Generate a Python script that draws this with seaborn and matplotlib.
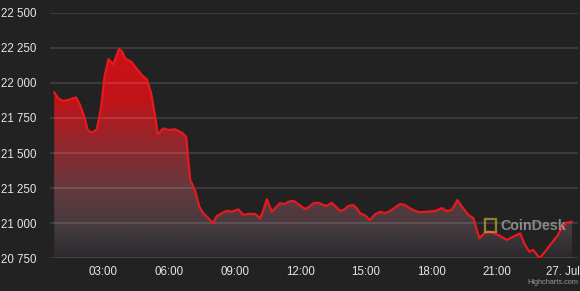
import numpy as np
import pandas as pd
import matplotlib
matplotlib.use("Agg")
import matplotlib.pyplot as plt
import matplotlib.dates as mdates
from matplotlib.patches import PathPatch, Rectangle
from matplotlib.path import Path
from matplotlib.ticker import FuncFormatter
import seaborn as sns

# ---- data (BTC price, 26-27 Jul 2022) ----
times = ["00:45", "00:56", "01:10", "01:24", "01:45", "01:56", "02:08", "02:17", "02:28", "02:42",
         "02:54", "03:03", "03:14", "03:27", "03:43", "03:52", "03:59", "04:16", "04:27", "04:45",
         "04:59", "05:11", "05:22", "05:29", "05:44", "05:58", "06:17", "06:35", "06:47", "06:58",
         "07:11", "07:23", "07:34", "07:48", "08:00", "08:11", "08:25", "08:38", "08:52", "09:10",
         "09:24", "09:37", "09:56", "10:10", "10:19", "10:28", "10:42", "10:55", "11:04", "11:18",
         "11:27", "11:41", "11:55", "12:13", "12:22", "12:36", "12:49", "13:03", "13:12", "13:26",
         "13:35", "13:49", "13:58", "14:12", "14:25", "14:35", "14:44", "14:58", "15:11", "15:25",
         "15:39", "15:52", "16:06", "16:20", "16:34", "16:47", "17:01", "17:15", "17:28", "17:47",
         "18:10", "18:28", "18:41", "18:55", "19:11", "19:23", "19:41", "19:55", "20:04", "20:11",
         "20:24", "20:36", "20:45", "21:03", "21:26", "21:44", "22:03", "22:16", "22:28", "22:39",
         "22:56", "23:11", "23:25", "23:43", "23:57", "00:11", "00:25"]
prices = [21933, 21890, 21871, 21878, 21897, 21842, 21755, 21664, 21645, 21669,
          21830, 22044, 22170, 22132, 22241, 22222, 22175, 22151, 22115, 22056,
          22025, 21926, 21759, 21634, 21676, 21664, 21669, 21645, 21616, 21308,
          21237, 21118, 21071, 21035, 21000, 21051, 21071, 21089, 21082, 21099,
          21059, 21066, 21066, 21035, 21094, 21170, 21082, 21118, 21142, 21137,
          21153, 21160, 21135, 21101, 21113, 21142, 21146, 21130, 21123, 21146,
          21123, 21089, 21094, 21123, 21130, 21106, 21071, 21054, 21023, 21064,
          21082, 21071, 21087, 21113, 21137, 21130, 21106, 21087, 21078, 21082,
          21087, 21108, 21087, 21094, 21165, 21118, 21059, 21035, 20952, 20893,
          20928, 20940, 20933, 20916, 20881, 20904, 20928, 20845, 20797, 20809,
          20750, 20797, 20845, 20904, 20964, 21004, 21011]
y_ticks = [20750, 21000, 21250, 21500, 21750, 22000, 22250, 22500]
start_day = "2022-07-26"

# build timestamps (roll over midnight)
base = pd.Timestamp(start_day)
stamps = []
day = 0
prev = None
for t in times:
    td = pd.Timedelta(hours=int(t[:2]), minutes=int(t[3:]))
    if prev is not None and td < prev:
        day += 1
    prev = td
    stamps.append(base + pd.Timedelta(days=day) + td)
df = pd.DataFrame({"time": stamps, "price": prices})

BG = "#222222"
RED = "#e8191e"

sns.set_theme(style="dark")
plt.rcParams["font.family"] = ["Liberation Sans", "DejaVu Sans"]

fig = plt.figure(figsize=(5.8, 2.91), dpi=100, facecolor=BG)
ax = fig.add_axes([50 / 580, 1 - 258.3 / 291, 528 / 580, (258.3 - 12.7) / 291])
ax.set_facecolor(BG)

sns.lineplot(data=df, x="time", y="price", color=RED, linewidth=1.6, ax=ax, zorder=3)

xmin = mdates.date2num(base + pd.Timedelta(hours=0.56))
xmax = mdates.date2num(base + pd.Timedelta(hours=24.69))
ymin, ymax = y_ticks[0], y_ticks[-1]

# gradient fill under the line
stops_f = [0.0, 0.355, 0.56, 0.72, 0.885, 1.0]
stops_c = np.array([(215, 15, 20), (192, 20, 25), (140, 42, 47), (100, 58, 62), (68, 58, 62),
                    (42, 41, 44)]) / 255.0
fr = np.linspace(0, 1, 300)
grad = np.stack([np.interp(fr, stops_f, stops_c[:, i]) for i in range(3)], axis=1)
grad = grad[:, None, :]
im = ax.imshow(grad, extent=[xmin, xmax, ymin, ymax], aspect="auto", origin="upper",
               zorder=1, interpolation="bilinear")
xnum = mdates.date2num(df["time"])
verts = np.vstack([[xnum[0], ymin], np.column_stack([xnum, df["price"]]), [xnum[-1], ymin]])
patch = PathPatch(Path(verts), transform=ax.transData, facecolor="none", edgecolor="none")
ax.add_patch(patch)
im.set_clip_path(patch)

ax.set_xlim(xmin, xmax)
ax.set_ylim(ymin, ymax)

# grid
ax.set_yticks(y_ticks)
ax.yaxis.grid(True, color="white", alpha=0.12, linewidth=1.4)
ax.xaxis.grid(False)
ax.set_axisbelow("line")

ax.yaxis.set_major_formatter(FuncFormatter(lambda v, p: f"{int(v):,}".replace(",", " ")))
ax.xaxis.set_major_locator(mdates.HourLocator(byhour=[0, 3, 6, 9, 12, 15, 18, 21]))


def xfmt(v, p):
    d = mdates.num2date(v)
    if d.hour == 0 and d.minute == 0:
        return f"{d.day}. {d.strftime('%b')}"
    return d.strftime("%H:%M")


ax.xaxis.set_major_formatter(FuncFormatter(xfmt))
ax.tick_params(axis="both", colors="#e6e6e6", labelsize=8.3, length=0)
ax.tick_params(axis="y", pad=10)
ax.tick_params(axis="x", pad=5.5)
ax.set_xlabel("")
ax.set_ylabel("")
for s in ax.spines.values():
    s.set_visible(False)

# watermark
fig.text(500 / 580, 1 - 226 / 291, "CoinDesk", color=(0.8, 0.8, 0.8, 0.6), fontsize=10.3,
         fontweight="bold", ha="left", va="center")
fig.patches.append(Rectangle((485 / 580, 1 - 232 / 291), 11 / 580, 13 / 291, transform=fig.transFigure,
                             facecolor="none", edgecolor=(0.8, 0.65, 0.2, 0.7), linewidth=1.6))
fig.text(578 / 580, 1 - 282 / 291, "Highcharts.com", color="#9a9a9a", fontsize=5.3,
         ha="right", va="center")

fig.savefig("out.png", dpi=100, facecolor=BG)
